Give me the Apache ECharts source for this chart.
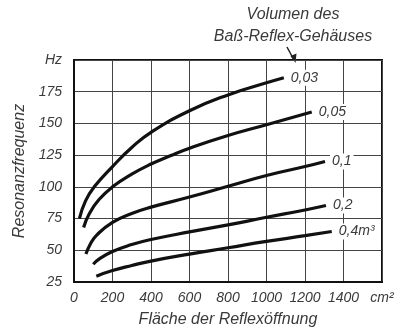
<!DOCTYPE html>
<html>
<head>
<meta charset="utf-8">
<script src="https://cdn.jsdelivr.net/npm/echarts@6/dist/echarts.min.js"></script>
<style>html,body{margin:0;padding:0;background:#fff}#c{width:410px;height:333px}</style>
</head>
<body>
<div id="c"></div>
<script>
// Volume labels of the bass-reflex enclosure
var seriesNames = ['0,03', '0,05', '0,1', '0,2', '0,4m³'];
// [area cm², resonance Hz]
var v003 = [[28,75],[60,89],[105,100],[200,116],[300,131],[400,143],[600,160],[800,172.5],[1000,182],[1090,186]];
var v005 = [[50,68],[80,79],[130,90],[200,100],[300,110],[400,118],[500,124.5],[600,130.5],[800,140.5],[1000,149],[1235,159]];
var v01  = [[62,47],[85,55],[118,62],[200,72],[300,79],[400,84],[600,92],[800,100.5],[1000,109],[1200,116],[1304,120]];
var v02  = [[100,39],[130,43],[200,49],[300,54.5],[400,58.5],[600,64.5],[800,70],[1000,76],[1200,81.8],[1309,85.3]];
var v04  = [[116,29.6],[200,34],[300,38],[400,41.5],[600,47],[800,52],[1000,57],[1200,61.5],[1339,64.8]];
var xTicks = [0,200,400,600,800,1000,1200,1400,1600];
var yTicks = [25,50,75,100,125,150,175,200];
var xUnit = 'cm²';
var yUnit = 'Hz';

var allData = [v003, v005, v01, v02, v04];
var FONT = 'Liberation Sans';
var TXT = '#3a3a3a';

var chart = echarts.init(document.getElementById('c'), null, {renderer:'canvas'});
chart.setOption({
  backgroundColor: '#fff',
  animation: false,
  grid: {left:74, right:28, top:60, bottom:45, show:true, borderColor:'#111', borderWidth:2, backgroundColor:'transparent'},
  xAxis: {
    type:'value', min:xTicks[0], max:xTicks[xTicks.length-1], interval:200,
    name:'Fläche der Reflexöffnung', nameLocation:'middle', nameGap:30,
    nameTextStyle:{fontFamily:FONT, fontStyle:'italic', fontSize:16, color:TXT},
    axisLine:{show:true, lineStyle:{color:'#111', width:2}},
    axisTick:{show:false},
    axisLabel:{margin:9, fontFamily:FONT, fontStyle:'italic', fontSize:14, color:TXT,
      formatter:function(v){return v===xTicks[xTicks.length-1]? xUnit : String(v);}},
    splitLine:{show:true, lineStyle:{color:'#444', width:1}}
  },
  yAxis: {
    type:'value', min:yTicks[0], max:yTicks[yTicks.length-1], interval:25,
    name:'Resonanzfrequenz', nameLocation:'middle', nameGap:46, nameRotate:90,
    nameTextStyle:{fontFamily:FONT, fontStyle:'italic', fontSize:16, color:TXT},
    axisLine:{show:true, lineStyle:{color:'#111', width:2}},
    axisTick:{show:false},
    axisLabel:{margin:12, fontFamily:FONT, fontStyle:'italic', fontSize:14, color:TXT,
      formatter:function(v){return v===yTicks[yTicks.length-1]? yUnit : String(v);}},
    splitLine:{show:true, lineStyle:{color:'#444', width:1}}
  },
  graphic: [
    {type:'text', x:293, y:4, style:{text:'Volumen des\nBaß-Reflex-Gehäuses', textAlign:'center', textVerticalAlign:'top',
      fontFamily:FONT, fontStyle:'italic', fontSize:16, lineHeight:22, fill:TXT}},
    {type:'line', shape:{x1:287, y1:47, x2:294, y2:60}, style:{stroke:'#222', lineWidth:1.5}},
    {type:'polygon', shape:{points:[[290.5,56],[296.5,53.5],[295.5,63]]}, style:{fill:'#222'}}
  ],
  series: allData.map(function(d, i){
    return {
      type:'line', name:seriesNames[i], data:d, smooth:0.5, showSymbol:false,
      lineStyle:{color:'#111', width:3.2}, z:3,
      endLabel:{show:true, formatter:'{a}', distance:5, fontFamily:FONT, fontStyle:'italic', fontSize:14,
        color:TXT, backgroundColor:'#fff', padding:[1,2]}
    };
  })
});
</script>
</body>
</html>
